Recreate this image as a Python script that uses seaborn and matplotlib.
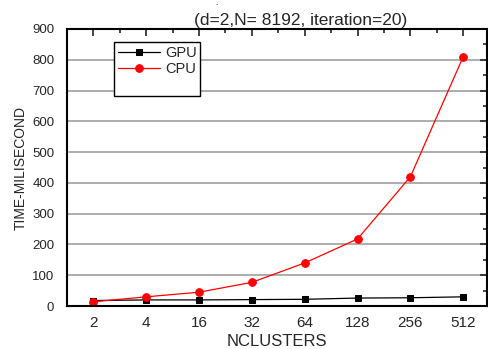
import matplotlib
matplotlib.use("Agg")
import matplotlib.pyplot as plt
from matplotlib import font_manager
from matplotlib.lines import Line2D
from matplotlib.ticker import MultipleLocator
import seaborn as sns
import pandas as pd

clusters = ["2", "4", "16", "32", "64", "128", "256", "512"]
gpu = [18, 20, 20, 21, 22, 26, 27, 30]
cpu = [14, 30, 45, 77, 140, 218, 420, 810]

sns.set_style("white")
plt.rcParams["font.family"] = ["Liberation Sans", "DejaVu Sans"]

df = pd.DataFrame({
    "pos": list(range(len(clusters))) * 2,
    "time": gpu + cpu,
    "dev": ["GPU"] * len(gpu) + ["CPU"] * len(cpu),
})

fig = plt.figure(figsize=(4.88, 3.49), dpi=100)
ax = fig.add_axes([0.137, 0.123, 0.861, 0.794])

sns.lineplot(data=df, x="pos", y="time", hue="dev", style="dev",
             palette={"GPU": "black", "CPU": "red"},
             markers={"GPU": "s", "CPU": "o"}, dashes=False,
             markersize=5.5, linewidth=0.9, ax=ax)
for ln in ax.lines:
    ln.set_markeredgecolor(ln.get_color())
    if ln.get_marker() == "s":
        ln.set_markersize(5)

ax.set_xlim(-0.5, 7.45)
ax.set_ylim(0, 900)
ax.set_xticks(range(len(clusters)))
ax.set_xticklabels(clusters)
ax.xaxis.set_minor_locator(MultipleLocator(0.5))
ax.yaxis.set_major_locator(MultipleLocator(100))
ax.yaxis.set_minor_locator(MultipleLocator(50))
ax.yaxis.grid(True, color="#a0a0a0", linewidth=1.2)
ax.tick_params(which="both", direction="in", top=True, right=True,
               width=1.2)
ax.tick_params(axis="x", labelsize=11, pad=7)
ax.tick_params(axis="y", labelsize=9.5, pad=9)
ax.tick_params(which="major", length=5)
ax.tick_params(which="minor", length=3)
for sp in ax.spines.values():
    sp.set_color("black")
    sp.set_linewidth(1.5)

ax.set_xlabel("NCLUSTERS", fontsize=12, labelpad=3)
names = {f.name for f in font_manager.fontManager.ttflist}
if "Liberation Sans Narrow" in names:
    ax.set_ylabel("TIME-MILISECOND", fontsize=12, labelpad=3,
                  family=["Liberation Sans Narrow", "DejaVu Sans"])
else:
    ax.set_ylabel("TIME-MILISECOND", fontsize=10, labelpad=3)

handles, labels = ax.get_legend_handles_labels()
handles = handles + [Line2D([], [], alpha=0)]
labels = labels + [" "]
leg = ax.legend(handles, labels, loc="upper left",
                bbox_to_anchor=(0.112, 0.952),
                fontsize=10.5, frameon=True, fancybox=False,
                edgecolor="black", borderpad=0.25, labelspacing=0.15,
                handlelength=2.9, handletextpad=0.35, borderaxespad=0)
leg.get_frame().set_linewidth(1)
leg.get_frame().set_alpha(1)

fig.text(0.617, 1 - 25.5 / 349, "(d=2,N= 8192, iteration=20)", ha="center",
         va="baseline", fontsize=12.5)
fig.text(0.443, 1.0, ".", ha="center", va="top", fontsize=6,
         fontweight="bold")

fig.savefig("out.png", dpi=100)
